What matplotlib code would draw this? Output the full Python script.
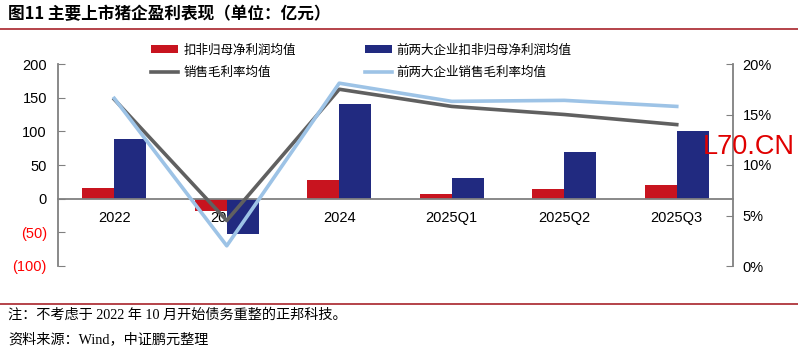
import matplotlib
matplotlib.use("Agg")
import matplotlib.pyplot as plt
import numpy as np
from matplotlib.ticker import FuncFormatter, FixedLocator

plt.rcParams['font.family'] = ['Liberation Sans', 'Noto Sans CJK SC', 'DejaVu Sans']

categories = ["2022", "2023", "2024", "2025Q1", "2025Q2", "2025Q3"]
profit_avg = [16, -18, 28, 7, 15, 21]
profit_top2 = [89, -52, 141, 31, 70, 100]
margin_avg = [0.165, 0.045, 0.175, 0.158, 0.150, 0.140]
margin_top2 = [0.166, 0.020, 0.181, 0.163, 0.164, 0.158]

left_ticks = [-100, -50, 0, 50, 100, 150, 200]
right_ticks = [0, 0.05, 0.10, 0.15, 0.20]

RED = "#C8141F"
BLUE = "#212A80"
GRAY = "#606060"
LBLUE = "#9DC3E6"
AXC = "#808080"

W, H = 798, 352
fig = plt.figure(figsize=(W / 100, H / 100), dpi=100)

ax = fig.add_axes([58 / W, 1 - 266 / H, (733 - 58) / W, (266 - 64) / H])
x = np.arange(len(categories))
bw = 0.285
b1 = ax.bar(x - bw / 2, profit_avg, bw, color=RED, label="扣非归母净利润均值", zorder=2)
b2 = ax.bar(x + bw / 2, profit_top2, bw, color=BLUE, label="前两大企业扣非归母净利润均值", zorder=2)
ax.set_xlim(-0.5, len(categories) - 0.5)
ax.set_ylim(-100, 200)
ax.yaxis.set_major_locator(FixedLocator(left_ticks))
ax.yaxis.set_major_formatter(FuncFormatter(lambda v, p: f"({abs(int(v))})" if v < 0 else f"{int(v)}"))
for lbl, v in zip(ax.get_yticklabels(), left_ticks):
    lbl.set_color("#FF0000" if v < 0 else "black")
ax.tick_params(axis="y", direction="in", length=5, color=AXC, labelsize=10.5, pad=8)
ax.set_xticks(x)
ax.set_xticklabels(categories)
ax.tick_params(axis="x", length=0, labelsize=10.5, pad=9)
for s in ["top", "right"]:
    ax.spines[s].set_visible(False)
ax.spines["bottom"].set_position(("data", 0))
ax.spines["bottom"].set_color(AXC)
ax.spines["bottom"].set_linewidth(1.3)
ax.spines["left"].set_color(AXC)
ax.spines["left"].set_linewidth(1.3)

ax2 = ax.twinx()
l1, = ax2.plot(x, margin_avg, color=GRAY, lw=2.6, label="销售毛利率均值", zorder=3)
l2, = ax2.plot(x, margin_top2, color=LBLUE, lw=2.6, label="前两大企业销售毛利率均值", zorder=3)
ax2.set_ylim(0, 0.20)
ax2.yaxis.set_major_locator(FixedLocator(right_ticks))
ax2.yaxis.set_major_formatter(FuncFormatter(lambda v, p: f"{int(round(v * 100))}%"))
ax2.tick_params(axis="y", direction="in", length=5, color=AXC, labelsize=10.5, pad=7)
for s in ["top", "left", "bottom"]:
    ax2.spines[s].set_visible(False)
ax2.spines["right"].set_color(AXC)
ax2.spines["right"].set_linewidth(1.3)

leg = fig.legend(handles=[b1, l1, b2, l2], ncol=2, loc="upper left",
                 bbox_to_anchor=(151 / W, 1 - 44 / H), frameon=False,
                 fontsize=9, handlelength=2.16, handletextpad=0.42,
                 columnspacing=5.5, labelspacing=0.85, borderaxespad=0, borderpad=0)

# header / footer
fig.text(8 / W, 1 - 14 / H, "图11 主要上市猪企盈利表现（单位：亿元）", fontsize=12, fontweight="bold",
         va="center", ha="left", family=["Noto Sans CJK SC"])
fig.add_artist(plt.Line2D([0, 1], [1 - 28.5 / H, 1 - 28.5 / H], color="#A8232A", lw=1.2))
fig.add_artist(plt.Line2D([0, 1], [1 - 303.5 / H, 1 - 303.5 / H], color="#A8232A", lw=1.2))
fig.text(8 / W, 1 - 315 / H, "注：不考虑于 2022 年 10 月开始债务重整的正邦科技。", fontsize=10.2,
         va="center", ha="left", family=["Liberation Serif", "Noto Sans CJK SC"])
fig.text(8 / W, 1 - 339 / H, "资料来源：Wind，中证鹏元整理", fontsize=10.2,
         va="center", ha="left", family=["Liberation Serif", "Noto Sans CJK SC"])
fig.text(703 / W, 1 - 147 / H, "L70.CN", fontsize=19.5, color="#E00000", va="center", ha="left")

fig.savefig("out.png", dpi=100, facecolor="white")
